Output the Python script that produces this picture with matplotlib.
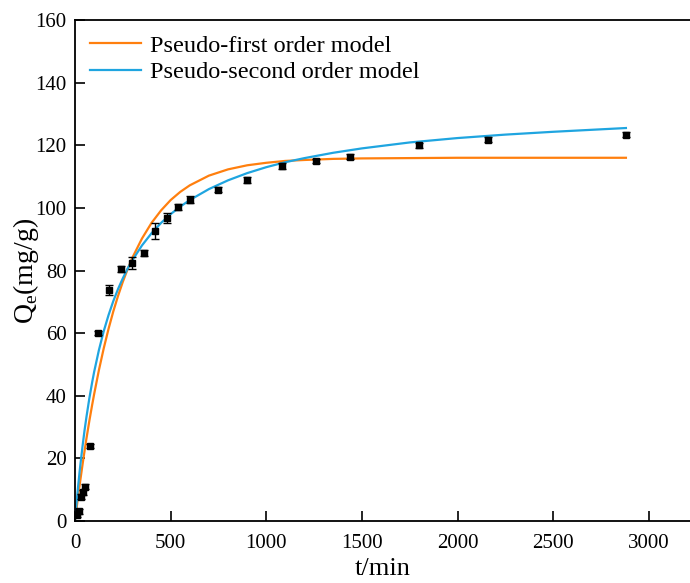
import matplotlib
matplotlib.use("Agg")
import matplotlib.pyplot as plt

plt.rcParams['font.family'] = ['Liberation Serif', 'DejaVu Serif']
plt.rcParams['mathtext.fontset'] = 'custom'
plt.rcParams['mathtext.rm'] = 'Liberation Serif'

# Experimental data
t_exp = [10, 20, 30, 40, 50, 80, 120, 180, 240, 300, 360, 420, 480, 540, 600,
         750, 900, 1080, 1260, 1440, 1800, 2160, 2880]
q_exp = [2.0, 3.2, 7.8, 9.2, 11.0, 24.0, 60.0, 73.8, 80.6, 82.4, 85.6, 92.6, 96.8,
         100.3, 102.6, 105.8, 108.8, 113.4, 115.0, 116.4, 120.0, 121.7, 123.3]
q_err = [0.8, 0.8, 0.8, 0.8, 0.8, 0.6, 0.6, 1.5, 1.0, 2.0, 1.0, 2.5, 1.5,
         1.0, 1.2, 0.8, 1.0, 1.0, 0.6, 0.8, 0.8, 0.8, 0.8]

# Fitted curves
t_fit = [0, 5, 10, 15, 20, 25, 30, 40, 50, 60, 75, 90, 100, 125, 150, 175, 200,
         225, 250, 275, 300, 350, 400, 450, 500, 550, 600, 700, 800, 900, 1000,
         1100, 1200, 1350, 1500, 1750, 2000, 2250, 2500, 2880]
q_pfo = [0, 2.5, 4.9, 7.3, 9.6, 11.8, 14.0, 18.3, 22.4, 26.4, 32.0, 37.2, 40.5,
         48.2, 55.1, 61.3, 66.9, 71.9, 76.4, 80.4, 84.1, 90.2, 95.2, 99.2, 102.5,
         105.1, 107.2, 110.3, 112.3, 113.6, 114.4, 115.0, 115.3, 115.65, 115.8,
         115.9, 116.0, 116.0, 116.0, 116.0]
q_pso = [0, 3.6, 7.0, 10.3, 13.3, 16.3, 19.0, 24.2, 29.0, 33.3, 39.2, 44.4, 47.6,
         54.6, 60.6, 65.7, 70.2, 74.1, 77.5, 80.6, 83.3, 88.0, 91.9, 95.2, 98.0,
         100.4, 102.5, 106.0, 108.8, 111.1, 113.0, 114.6, 115.9, 117.6, 119.0,
         120.9, 122.3, 123.4, 124.3, 125.5]

fig = plt.figure(figsize=(6.9, 5.83), dpi=100)
ax = fig.add_axes([0.1087, 0.1063, 0.8913, 0.8594])

ax.plot(t_fit, q_pfo, color='#FF7F0E', lw=1.6, label='Pseudo-first order model', zorder=2)
ax.plot(t_fit, q_pso, color='#1FA5E0', lw=1.6, label='Pseudo-second order model', zorder=2)
ax.errorbar(t_exp, q_exp, yerr=q_err, fmt='s', color='black', ms=5.0, capsize=3.2,
            elinewidth=1, capthick=1, zorder=3)

ax.set_xlim(0, 3215)
ax.set_ylim(0, 160)
ax.set_xticks([0, 500, 1000, 1500, 2000, 2500, 3000])
ax.set_yticks(range(0, 161, 20))
ax.tick_params(direction='in', length=7, width=1.2, labelsize=15)
ax.tick_params(axis='x', pad=9)
ax.tick_params(axis='y', pad=6)
for s in ['left', 'bottom', 'top']:
    ax.spines[s].set_linewidth(1.3)
ax.spines['right'].set_visible(False)

ax.set_xlabel('t/min', fontsize=19, labelpad=4)
ax.set_ylabel(r'Q$_\mathregular{e}$(mg/g)', fontsize=20, labelpad=-4)

ax.legend(loc='upper left', frameon=False, fontsize=17.5, handlelength=2.1,
          borderaxespad=0.15, labelspacing=0.2, handletextpad=0.4,
          borderpad=0.45)

fig.savefig('out.png', dpi=100)
